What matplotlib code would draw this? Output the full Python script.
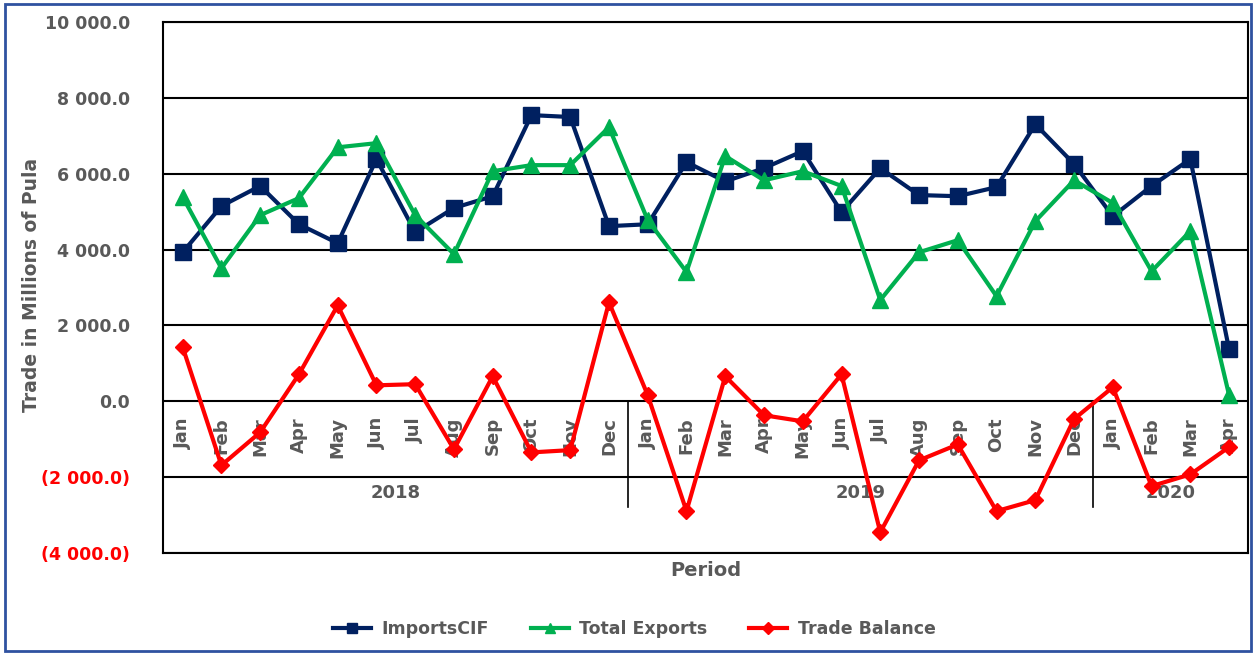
import matplotlib.pyplot as plt
from matplotlib.patches import Rectangle
from matplotlib.lines import Line2D

months = ["Jan", "Feb", "Mar", "Apr", "May", "Jun", "Jul", "Aug", "Sep", "Oct", "Nov", "Dec",
          "Jan", "Feb", "Mar", "Apr", "May", "Jun", "Jul", "Aug", "Sep", "Oct", "Nov", "Dec",
          "Jan", "Feb", "Mar", "Apr"]
years = ["2018", "2019", "2020"]
year_counts = [12, 12, 4]

imports_cif = [3930, 5150, 5680, 4670, 4170, 6390, 4460, 5100, 5410, 7550, 7500, 4620,
               4670, 6310, 5800, 6150, 6600, 4990, 6150, 5440, 5410, 5650, 7310, 6260,
               4880, 5680, 6390, 1370]
total_exports = [5390, 3510, 4910, 5360, 6700, 6810, 4910, 3880, 6070, 6230, 6230, 7230,
                 4780, 3410, 6470, 5830, 6070, 5680, 2670, 3930, 4250, 2770, 4750, 5830,
                 5230, 3430, 4490, 160]
trade_balance = [1430, -1690, -820, 710, 2530, 420, 450, -1270, 660, -1350, -1290, 2610,
                 160, -2900, 660, -370, -530, 710, -3460, -1560, -1140, -2900, -2610, -470,
                 370, -2240, -1930, -1210]

navy = "#002060"
green = "#00B050"
red = "#FF0000"
gray = "#595959"

fig = plt.figure(figsize=(12.56, 6.55), dpi=100)
ax = fig.add_axes([0.130, 0.156, 0.864, 0.810])

x = list(range(len(months)))
ax.plot(x, imports_cif, color=navy, lw=3, marker="s", ms=11, zorder=4, label="ImportsCIF")
ax.plot(x, total_exports, color=green, lw=3, marker="^", ms=11, zorder=4, label="Total Exports")
ax.plot(x, trade_balance, color=red, lw=3, marker="D", ms=8, zorder=5, label="Trade Balance")

ax.set_xlim(-0.5, len(months) - 0.5)
ax.set_ylim(-4000, 10000)
yticks = list(range(-4000, 10001, 2000))
ax.set_yticks(yticks)
labels = []
for v in yticks:
    s = f"{abs(v):,.1f}".replace(",", " ")
    labels.append(f"({s})" if v < 0 else s)
ax.set_yticklabels(labels, fontsize=12.5, fontweight="bold")
for t, v in zip(ax.get_yticklabels(), yticks):
    t.set_color(red if v < 0 else gray)
ax.tick_params(axis="y", length=0, pad=24)
ax.set_xticks([])
ax.grid(axis="y", color="black", lw=1.5, zorder=1)
for sp in ax.spines.values():
    sp.set_linewidth(1.5)

# month labels in band below zero
for i, m in enumerate(months):
    ax.text(i, -420, m, rotation=90, ha="center", va="top", fontsize=13,
            fontweight="bold", color=gray, zorder=2)

# year dividers and labels
start = 0
for yr, n in zip(years, year_counts):
    end = start + n
    ax.text((start + end - 1) / 2, -2420, yr, ha="center", va="center",
            fontsize=13, fontweight="bold", color=gray)
    if end < len(months):
        ax.plot([end - 0.5, end - 0.5], [0, -2800], color="black", lw=1.2, zorder=2)
    start = end

ax.set_ylabel("Trade in Millions of Pula", fontsize=13.5, fontweight="bold", color=gray)
ax.yaxis.set_label_coords(-0.113, 0.505)
ax.set_xlabel("Period", fontsize=14, fontweight="bold", color=gray, labelpad=6)

handles = [
    Line2D([], [], color=navy, lw=3, marker="s", ms=7),
    Line2D([], [], color=green, lw=3, marker="^", ms=7),
    Line2D([], [], color=red, lw=3, marker="D", ms=6),
]
fig.legend(handles, ["ImportsCIF", "Total Exports", "Trade Balance"], loc="center",
           bbox_to_anchor=(0.505, 0.04), ncol=3, frameon=False, handlelength=2.2,
           columnspacing=2.4, handletextpad=0.6, prop={"size": 12.5, "weight": "bold"},
           labelcolor=gray)

fig.patches.append(Rectangle((0.004, 0.006), 0.992, 0.988, transform=fig.transFigure,
                             fill=False, edgecolor="#2F52A0", lw=2))

fig.savefig("out.png", dpi=100)
